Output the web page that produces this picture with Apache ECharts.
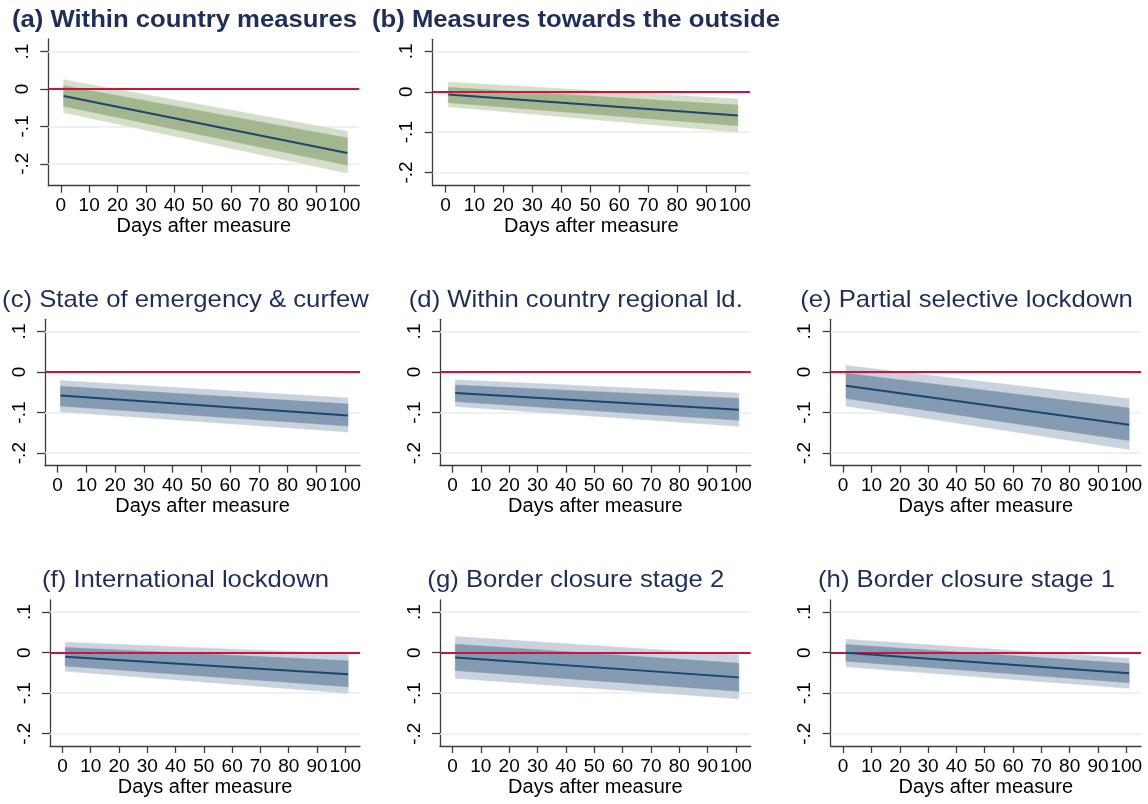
<!DOCTYPE html>
<html>
<head>
<meta charset="utf-8">
<script src="https://cdn.jsdelivr.net/npm/echarts@6/dist/echarts.min.js"></script>
<style>
  html, body { margin: 0; padding: 0; background: #ffffff; }
  #chart { width: 1148px; height: 804px; }
</style>
</head>
<body>
<div id="chart"></div>
<script>
// Predicted effect by days after the measure, with 90% and 95% confidence bands
const panelTitles = [
  '(a) Within country measures',
  '(b) Measures towards the outside',
  '(c) State of emergency & curfew',
  '(d) Within country regional ld.',
  '(e) Partial selective lockdown',
  '(f) International lockdown',
  '(g) Border closure stage 2',
  '(h) Border closure stage 1'
];
const days = [1, 101];
const estimate = [[-0.019, -0.171], [-0.007, -0.059], [-0.058, -0.107], [-0.052, -0.093],
                  [-0.034, -0.130], [-0.010, -0.053], [-0.012, -0.061], [0.000, -0.051]];
const lower95  = [[-0.063, -0.225], [-0.037, -0.100], [-0.098, -0.148], [-0.085, -0.134],
                  [-0.084, -0.191], [-0.046, -0.100], [-0.063, -0.114], [-0.035, -0.088]];
const lower90  = [[-0.046, -0.204], [-0.027, -0.084], [-0.084, -0.133], [-0.073, -0.119],
                  [-0.065, -0.169], [-0.033, -0.084], [-0.044, -0.095], [-0.021, -0.074]];
const upper90  = [[0.009, -0.131], [0.011, -0.033], [-0.035, -0.079], [-0.032, -0.065],
                  [-0.003, -0.089], [0.013, -0.020], [0.021, -0.026], [0.020, -0.027]];
const upper95  = [[0.025, -0.113], [0.024, -0.018], [-0.021, -0.064], [-0.019, -0.052],
                  [0.016, -0.066], [0.026, -0.003], [0.040, -0.006], [0.033, -0.014]];
const xTicks = [0, 10, 20, 30, 40, 50, 60, 70, 80, 90, 100];
const yTicks = [-0.2, -0.1, 0, 0.1];
const yTickLabels = ['-.2', '-.1', '0', '.1'];
const xTitle = 'Days after measure';

// Panel frames (pixels) and value ranges
const frames = [
  { l: 48.3, r: 359.3, t: 39.0, b: 185.7, ymin: -0.2586, ymax: 0.1337, cx: 184.5, ty: 20.0, green: true },
  { l: 432.7, r: 750.0, t: 39.3, b: 185.7, ymin: -0.2327, ymax: 0.1300, cx: 576.0, ty: 20.0, green: true },
  { l: 45.0, r: 360.0, t: 319.3, b: 465.7, ymin: -0.2310, ymax: 0.1300, cx: 185.5, ty: 300.5 },
  { l: 440.0, r: 750.7, t: 319.3, b: 465.7, ymin: -0.2310, ymax: 0.1300, cx: 575.8, ty: 300.5 },
  { l: 830.7, r: 1141.0, t: 319.3, b: 465.7, ymin: -0.2310, ymax: 0.1300, cx: 966.5, ty: 300.5 },
  { l: 50.0, r: 360.0, t: 600.0, b: 746.0, ymin: -0.2304, ymax: 0.1300, cx: 185.5, ty: 580.5 },
  { l: 440.0, r: 750.7, t: 600.0, b: 746.0, ymin: -0.2304, ymax: 0.1300, cx: 575.8, ty: 580.5 },
  { l: 830.7, r: 1141.0, t: 600.0, b: 746.0, ymin: -0.2304, ymax: 0.1300, cx: 966.5, ty: 580.5 }
];

const FONT = "'Liberation Sans', Arial, Helvetica, sans-serif";
const AXIS_COLOR = '#3c3c3c';
const NAVY = '#1a476f';
const ZERO_RED = '#c9143f';
const GRID_LINE = '#e4edf0';
const BAND = {
  green: { outer: '#d4dfca', inner: '#a3b68e' },
  blue:  { outer: '#c8d3de', inner: '#849bb2' }
};

// A band drawn as quadrilaterals between consecutive days, from [day, low, high] rows
function bandSeries(i, lo, hi, color, z, markLine) {
  const rows = days.map((d, k) => [d, lo[i][k], hi[i][k]]);
  return {
    type: 'custom', xAxisIndex: i, yAxisIndex: i, z: z, silent: true, animation: false,
    data: rows,
    encode: { x: 0, y: [1, 2] },
    markLine: markLine,
    renderItem: (params, api) => {
      const k = params.dataIndex;
      if (k >= rows.length - 1) return null;
      const a = rows[k], b = rows[k + 1];
      const pts = [
        api.coord([a[0], a[1]]), api.coord([b[0], b[1]]),
        api.coord([b[0], b[2]]), api.coord([a[0], a[2]])
      ];
      return { type: 'polygon', shape: { points: pts }, style: { fill: color, stroke: color, lineWidth: 0.5 } };
    }
  };
}

const grids = [], xAxes = [], yAxes = [], series = [], graphics = [];

frames.forEach((f, i) => {
  const pal = f.green ? BAND.green : BAND.blue;
  grids.push({ left: f.l, top: f.t, width: f.r - f.l, height: f.b - f.t, containLabel: false });

  xAxes.push({
    gridIndex: i, type: 'value', min: -4.4, max: 105.2,
    axisLine: { onZero: false, lineStyle: { color: AXIS_COLOR, width: 1.3 } },
    axisTick: { customValues: xTicks, length: 7, lineStyle: { color: AXIS_COLOR, width: 1.3 } },
    axisLabel: { customValues: xTicks, margin: 11, color: '#000', fontSize: 19, fontFamily: FONT },
    splitLine: { show: false },
    name: xTitle, nameLocation: 'middle', nameGap: 31,
    nameTextStyle: { color: '#000', fontSize: 20, fontFamily: FONT }
  });

  yAxes.push({
    gridIndex: i, type: 'value', min: f.ymin, max: f.ymax,
    axisLine: { show: true, onZero: false, lineStyle: { color: AXIS_COLOR, width: 1.3 } },
    axisTick: { show: true, customValues: yTicks, length: 8, lineStyle: { color: AXIS_COLOR, width: 1.3 } },
    axisLabel: {
      customValues: yTicks, rotate: 90, margin: 16, color: '#000', fontSize: 19, fontFamily: FONT,
      formatter: v => {
        const k = yTicks.findIndex(t => Math.abs(t - v) < 1e-9);
        return k >= 0 ? yTickLabels[k] : '';
      }
    },
    splitLine: { show: false }
  });

  // light reference lines sit under the bands
  series.push(bandSeries(i, lower95, upper95, pal.outer, 2, {
    silent: true, symbol: 'none', label: { show: false }, animation: false, z: 1,
    lineStyle: { color: GRID_LINE, width: 1.5, type: 'solid' },
    data: yTicks.filter(t => t !== 0).map(t => ({ yAxis: t }))
  }));
  // the red zero line sits over the bands
  series.push(bandSeries(i, lower90, upper90, pal.inner, 3, {
    silent: true, symbol: 'none', label: { show: false }, animation: false, z: 4,
    lineStyle: { color: ZERO_RED, width: 2, type: 'solid' },
    data: [{ yAxis: 0 }]
  }));

  // point estimate
  series.push({
    type: 'line', xAxisIndex: i, yAxisIndex: i, z: 6, symbol: 'none', silent: true, animation: false,
    data: days.map((d, k) => [d, estimate[i][k]]),
    lineStyle: { color: NAVY, width: 2 }
  });

  graphics.push({
    type: 'text', x: f.cx, y: f.ty, silent: true, scaleX: 1.07,
    style: {
      text: panelTitles[i], fill: '#1e2d5a',
      font: (f.green ? 'bold ' : '') + '24px ' + FONT,
      align: 'center', verticalAlign: 'middle',
      textAlign: 'center', textVerticalAlign: 'middle'
    }
  });
});

const chart = echarts.init(document.getElementById('chart'), null, { renderer: 'canvas' });
chart.setOption({
  backgroundColor: '#ffffff',
  animation: false,
  grid: grids,
  xAxis: xAxes,
  yAxis: yAxes,
  series: series,
  graphic: graphics
});
</script>
</body>
</html>
